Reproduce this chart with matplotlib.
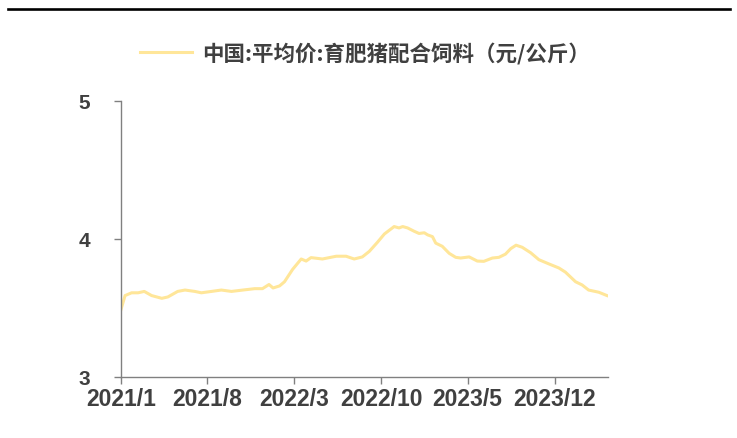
import matplotlib
matplotlib.use("Agg")
import matplotlib.pyplot as plt
from matplotlib.lines import Line2D
import pandas as pd

# 育肥猪配合饲料 平均价（元/公斤），读图估计
dates = ["2021-01-01", "2021-01-11", "2021-01-27", "2021-02-12", "2021-02-27",
         "2021-03-17", "2021-04-11", "2021-04-26", "2021-05-20", "2021-06-07",
         "2021-07-01", "2021-07-17", "2021-08-11", "2021-09-04", "2021-09-29",
         "2021-10-27", "2021-11-25", "2021-12-14", "2021-12-30", "2022-01-09",
         "2022-01-25", "2022-02-06", "2022-02-26", "2022-03-19", "2022-03-31",
         "2022-04-12", "2022-05-10", "2022-06-13", "2022-07-07", "2022-07-27",
         "2022-08-16", "2022-09-02", "2022-09-22", "2022-10-09", "2022-11-02",
         "2022-11-14", "2022-11-23", "2022-12-05", "2022-12-21", "2023-01-02",
         "2023-01-15", "2023-01-23", "2023-02-04", "2023-02-12", "2023-02-28",
         "2023-03-17", "2023-04-02", "2023-04-14", "2023-05-05", "2023-05-25",
         "2023-06-10", "2023-07-01", "2023-07-17", "2023-08-02", "2023-08-15",
         "2023-08-28", "2023-09-12", "2023-10-03", "2023-10-23", "2023-11-16",
         "2023-12-11", "2023-12-27", "2024-01-21", "2024-02-06", "2024-02-22",
         "2024-03-18", "2024-04-07"]
prices = [3.49, 3.59, 3.61, 3.61, 3.62,
          3.59, 3.57, 3.58, 3.62, 3.63,
          3.62, 3.61, 3.62, 3.63, 3.62,
          3.63, 3.64, 3.64, 3.67, 3.645,
          3.66, 3.69, 3.78, 3.855, 3.84,
          3.865, 3.855, 3.875, 3.875, 3.855,
          3.87, 3.91, 3.976, 4.036, 4.09,
          4.08, 4.09, 4.08, 4.056, 4.04,
          4.045, 4.03, 4.017, 3.97, 3.947,
          3.896, 3.867, 3.862, 3.87, 3.84,
          3.838, 3.862, 3.867, 3.89, 3.93,
          3.955, 3.94, 3.90, 3.85, 3.82,
          3.79, 3.76, 3.69, 3.667, 3.63,
          3.614, 3.59]

tick_dates = ["2021-01-01", "2021-08-01", "2022-03-01", "2022-10-01", "2023-05-01", "2023-12-01"]
tick_labels = ["2021/1", "2021/8", "2022/3", "2022/10", "2023/5", "2023/12"]
y_ticks = [3, 4, 5]
series_name = "中国:平均价:育肥猪配合饲料（元/公斤）"

x = pd.to_datetime(dates)

fig = plt.figure(figsize=(7.37, 4.39), dpi=100)
ax = fig.add_axes([0.1642, 0.139, 0.661, 0.6287])

ax.plot(x, prices, color="#FFE699", linewidth=2.2, label=series_name)

ax.set_xlim(pd.Timestamp("2021-01-01"), pd.Timestamp("2024-04-10"))
ax.set_ylim(3, 5)
ax.set_xticks(pd.to_datetime(tick_dates))
ax.set_xticklabels(tick_labels)
ax.set_yticks(y_ticks)

for s in ["top", "right"]:
    ax.spines[s].set_visible(False)
for s in ["left", "bottom"]:
    ax.spines[s].set_color("#808080")
    ax.spines[s].set_linewidth(1.0)
ax.tick_params(axis="both", colors="#808080", length=5, width=1.0, direction="out")
ax.tick_params(axis="x", labelcolor="#404040", labelsize=16.5, pad=2)
ax.tick_params(axis="y", labelcolor="#404040", labelsize=15, pad=17)
for lab in ax.get_xticklabels() + ax.get_yticklabels():
    lab.set_family("Liberation Sans")
    lab.set_weight("bold")

leg = fig.legend(loc="center", bbox_to_anchor=(0.495, 0.877), frameon=False,
                 handlelength=2.45, handletextpad=0.45,
                 prop={"family": ["Noto Sans CJK SC", "DejaVu Sans"], "size": 15.5,
                       "weight": "bold"})
for t in leg.get_texts():
    t.set_color("#404040")

# 顶部黑色分隔线
fig.add_artist(Line2D([8 / 737, 730 / 737], [1 - 9.7 / 439, 1 - 9.7 / 439],
                      color="black", linewidth=1.9, transform=fig.transFigure))

fig.savefig("out.png", dpi=100)
